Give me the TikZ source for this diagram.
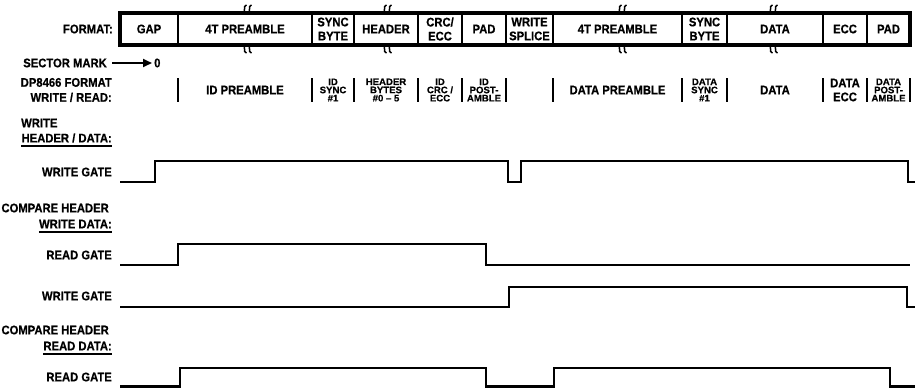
\documentclass[tikz,border=0pt]{standalone}
\usepackage{fontspec}
\setmainfont{Liberation Sans}[FakeStretch=0.9,BoldFeatures={FakeBold=0.6}]
\newfontfamily\widefont{Liberation Sans}[FakeStretch=1.02,BoldFeatures={FakeBold=0.6}]
\usetikzlibrary{arrows.meta,positioning}

\tikzset{
  brk/.pic={
    \foreach \o in {-2.5,2.5}
      \draw[line width=1.5pt] (\o+2,-8) .. controls (\o-2.5,-7) and (\o+2.5,-1) .. (\o-2,0);
  }
}

\begin{document}
\begin{tikzpicture}[
  x=1pt,y=-1pt,
  cell/.style={font=\bfseries\fontsize{12.5}{14}\selectfont,align=center,inner sep=0pt},
  fine/.style={font=\widefont\bfseries\fontsize{9.4}{8.2}\selectfont,align=center,inner sep=0pt},
  lbl/.style={font=\bfseries\fontsize{12.5}{15}\selectfont,anchor=east,align=right,inner sep=0pt},
  uline/.style={line width=2pt},
  frame/.style={line width=3.2pt},
  div/.style={line width=2pt},
  bar/.style={line width=1.5pt},
  wave/.style={line width=2.7pt},
  arr/.style={-{Triangle[length=9pt,width=8pt]},line width=2.2pt,shorten <=5pt,shorten >=2pt}
]
  \useasboundingbox (0,0) rectangle (917,388);

  % format fields
  \draw[frame] (120,13) rectangle (910,45);
  \foreach \x in {178,312,354,418,462,506,553,682,727,823,867}
    \draw[div] (\x,13) -- (\x,45);
  \foreach \x in {247,387,622,773} {
    \pic at (\x,13) {brk};
    \pic[yscale=-1] at (\x,45) {brk};
  }

  \node[cell] (gap)    at (149,29)   {GAP};
  \node[cell] (pre1)   at (245,29)   {4T PREAMBLE};
  \node[cell] (sync1)  at (333,29)   {SYNC\\BYTE};
  \node[cell] (hdr)    at (386,29)   {HEADER};
  \node[cell] (crc)    at (440,29)   {CRC/\\ECC};
  \node[cell] (pad1)   at (484,29)   {PAD};
  \node[cell] (splice) at (529.5,29) {WRITE\\SPLICE};
  \node[cell] (pre2)   at (617.5,29) {4T PREAMBLE};
  \node[cell] (sync2)  at (704.5,29) {SYNC\\BYTE};
  \node[cell] (data)   at (775,29)   {DATA};
  \node[cell] (ecc)    at (845,29)   {ECC};
  \node[cell] (pad2)   at (888.5,29) {PAD};

  % sector mark
  \node[lbl] (secmark) at (107,63) {SECTOR MARK};
  \node[cell,right=47pt of secmark] (zero) {0};
  \draw[arr] (secmark) -- (zero);

  % DP8466 write/read fields
  \foreach \x in {178,312,354,418,462,506,553,682,727,823,867,910}
    \draw[bar] (\x,78) -- (\x,102);
  \node[cell] (idpre)  at (245,90)   {ID PREAMBLE};
  \node[fine] (idsync) at (333,90)   {ID\\SYNC\\\#1};
  \node[fine] (hbytes) at (386,90)   {HEADER\\BYTES\\\#0 – 5};
  \node[fine] (idcrc)  at (440,90)   {ID\\CRC /\\ECC};
  \node[fine] (idpost) at (484,90)   {ID\\POST-\\AMBLE};
  \node[cell] (dpre)   at (617.5,90) {DATA PREAMBLE};
  \node[fine] (dsync)  at (704.5,90) {DATA\\SYNC\\\#1};
  \node[cell] (ddata)  at (775,90)   {DATA};
  \node[cell] (decc)   at (845,90)   {DATA\\ECC};
  \node[fine] (dpost)  at (888.5,90) {DATA\\POST-\\AMBLE};

  % row labels
  \node[lbl] (fmt)   at (113,29)  {FORMAT:};
  \node[lbl] (dpfmt) at (112,90)  {DP8466 FORMAT\\WRITE / READ:};
  \node[lbl,anchor=west] (wr) at (21,123) {WRITE};
  \node[lbl] (hdrdata) at (112,138) {HEADER / DATA:};
  \node[lbl] (wg1)   at (112,172) {WRITE GATE};
  \node[lbl] (cmp1)  at (109,208) {COMPARE HEADER};
  \node[lbl] (wdata) at (112,224) {WRITE DATA:};
  \node[lbl] (rg1)   at (112,255) {READ GATE};
  \node[lbl] (wg2)   at (112,296) {WRITE GATE};
  \node[lbl] (cmp2)  at (109,330) {COMPARE HEADER};
  \node[lbl] (rdata) at (112,346) {READ DATA:};
  \node[lbl] (rg2)   at (112,377) {READ GATE};

  \draw[uline] ([yshift=-3pt]hdrdata.south west) -- ([yshift=-3pt]hdrdata.south east);
  \draw[uline] ([yshift=-3pt]wdata.south west) -- ([yshift=-3pt]wdata.south east);
  \draw[uline] ([yshift=-3pt]rdata.south west) -- ([yshift=-3pt]rdata.south east);

  % gate waveforms
  \draw[wave] (120,182) -| (155,161) -| (508,182) -| (521,161) -| (908,182) -- (915,182);
  \draw[wave] (120,265) -| (178,244) -| (486,265) -- (910,265);
  \draw[wave] (120,307) -| (509,287) -| (907,307) -- (915,307);
  \draw[wave] (120,386.5) -| (180,368) -| (486,386.5) -| (554,368) -| (890,386.5) -- (915,386.5);
\end{tikzpicture}
\end{document}
